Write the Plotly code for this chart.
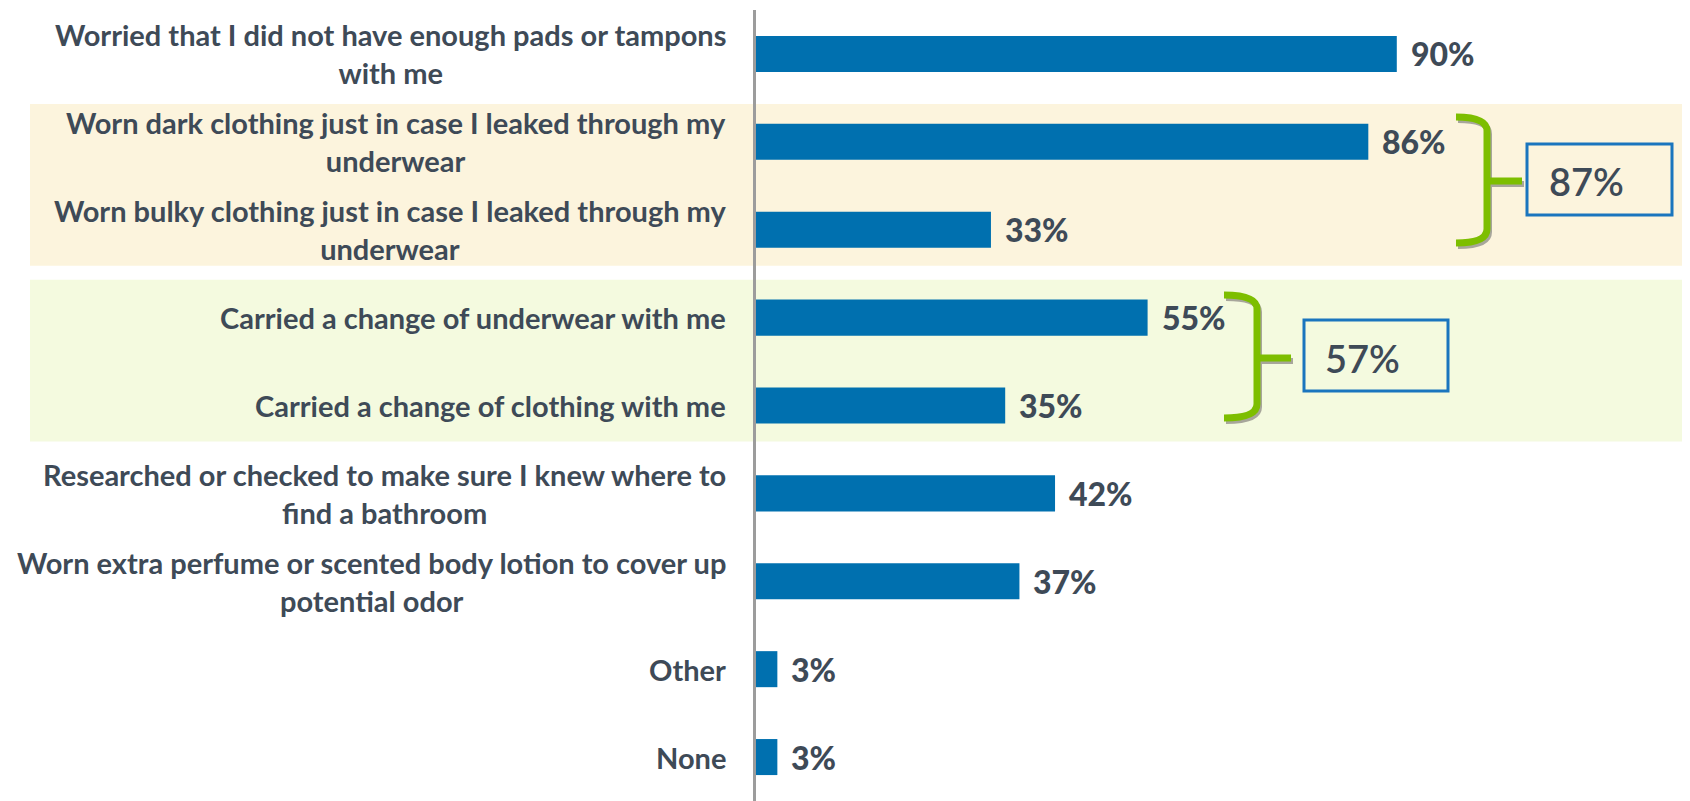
import plotly.graph_objects as go

categories = [
    "Worried that I did not have enough pads or tampons<br>with me",
    "Worn dark clothing just in case I leaked through my<br>underwear",
    "Worn bulky clothing just in case I leaked through my<br>underwear",
    "Carried a change of underwear with me",
    "Carried a change of clothing with me",
    "Researched or checked to make sure I knew where to<br>find a bathroom",
    "Worn extra perfume or scented body lotion to cover up<br>potential odor",
    "Other",
    "None",
]
values = [90, 86, 33, 55, 35, 42, 37, 3, 3]
value_labels = ["90%", "86%", "33%", "55%", "35%", "42%", "37%", "3%", "3%"]

# Grouped totals (net) shown in boxes
group_members = [[1, 2], [3, 4]]
group_totals = ["87%", "57%"]

# The page body has an 8px default margin; layout positions below are in window pixels
OFF = 8
W_FIG, H_FIG = 1690, 801
L = 756 - OFF
T = 10 - OFF
B = OFF
R = OFF
PW = W_FIG - L - R
PH = H_FIG - T - B
XMAX = PW / 7.12
TEXT = "#3E4A57"
BAR = "#0070AF"
FONT = "Lato"


def px_x(px):
    return (px - OFF - L) / PW


def px_y(py):
    return 1 - (py - OFF - T) / PH


fig = go.Figure()
fig.add_trace(go.Bar(
    x=values, y=categories, orientation="h",
    marker=dict(color=BAR, line=dict(width=0)),
    hoverinfo="skip",
))

shapes = []
band_cols = ["#FCF4DD", "#F4FADF"]
n = len(categories)
for members, col in zip(group_members, band_cols):
    top_c = min(members) - 0.43
    bot_c = max(members) + 0.41
    shapes.append(dict(
        type="rect", xref="paper", yref="paper", layer="below",
        x0=px_x(30), x1=px_x(1700),
        y0=1 - (bot_c + 0.5) / n, y1=1 - (top_c + 0.5) / n,
        fillcolor=col, line=dict(width=0),
    ))


def brace_path(xl, xv, xt, yt, ym, yb, dx=0, dy=0):
    def P(x, y):
        return f"{px_x(x + dx):.5f},{px_y(y + dy):.5f}"
    r = 14
    main = (f"M {P(xl, yt)} Q {P(xv, yt)} {P(xv, yt + r)} "
            f"L {P(xv, yb - r)} Q {P(xv, yb)} {P(xl, yb)}")
    stub = f"M {P(xv, ym)} L {P(xt, ym)}"
    return main, stub


braces = [
    dict(xl=1456, xv=1487, xt=1522, yt=117, ym=181, yb=243),
    dict(xl=1224, xv=1257, xt=1291, yt=295, ym=358, yb=418),
]
for b in braces:
    for dx, dy, col, w in [(2, 3, "#A7A69B", 6), (0, 0, "#7DBE00", 7)]:
        main, stub = brace_path(b["xl"], b["xv"], b["xt"], b["yt"], b["ym"], b["yb"], dx, dy)
        for p in (main, stub):
            shapes.append(dict(type="path", xref="paper", yref="paper", path=p,
                               line=dict(color=col, width=w), layer="above"))

boxes = [
    dict(x0=1527, x1=1672, y0=144, y1=215, tx=1586, ty=181),
    dict(x0=1304, x1=1448, y0=320, y1=391, tx=1362, ty=358),
]
annotations = []
for bx, total in zip(boxes, group_totals):
    shapes.append(dict(type="rect", xref="paper", yref="paper",
                       x0=px_x(bx["x0"]), x1=px_x(bx["x1"]),
                       y0=px_y(bx["y1"]), y1=px_y(bx["y0"]),
                       line=dict(color="#1A75BE", width=3), fillcolor="rgba(0,0,0,0)"))
    annotations.append(dict(xref="paper", yref="paper", x=px_x(bx["tx"]), y=px_y(bx["ty"]),
                            text=total, showarrow=False, xanchor="center", yanchor="middle",
                            font=dict(family=FONT, size=38, color=TEXT, weight=600)))

# Category labels (centered multi-line, right-anchored)
for c in categories:
    annotations.append(dict(xref="paper", yref="y", x=0, y=c, xshift=-28,
                            text=c, showarrow=False,
                            xanchor="right", yanchor="middle", align="center",
                            font=dict(family=FONT, size=29, color=TEXT, weight="bold")))

# Value labels
for c, v, lab in zip(categories, values, value_labels):
    annotations.append(dict(xref="x", yref="y", x=v, y=c, xshift=12,
                            text=lab, showarrow=False,
                            xanchor="left", yanchor="middle",
                            font=dict(family=FONT, size=32, color=TEXT, weight=900)))

fig.update_layout(
    width=W_FIG, height=H_FIG,
    margin=dict(l=L, r=R, t=T, b=B, pad=0),
    paper_bgcolor="white", plot_bgcolor="rgba(0,0,0,0)",
    bargap=0.59, showlegend=False,
    shapes=shapes, annotations=annotations,
    xaxis=dict(range=[0, XMAX], visible=False, fixedrange=True),
    yaxis=dict(type="category", categoryorder="array", categoryarray=categories,
               range=[n - 0.5, -0.5], showticklabels=False, ticks="",
               showgrid=False, zeroline=False,
               showline=True, linecolor="#9C9C9C", linewidth=3, fixedrange=True),
)

fig.write_html("out.html", config={"displayModeBar": False})
